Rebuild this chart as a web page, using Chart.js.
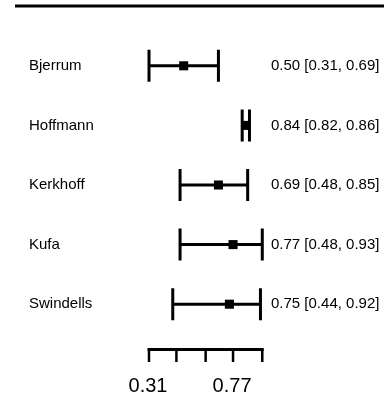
<!DOCTYPE html>
<html>
<head>
<meta charset="utf-8">
<script src="https://cdn.jsdelivr.net/npm/chart.js@4"></script>
<style>
  body { margin: 0; background: #fff; }
  #wrap { width: 384px; height: 399px; }
</style>
</head>
<body>
<div id="wrap"><canvas id="forest" width="384" height="399"></canvas></div>
<script>
const studies = ['Bjerrum', 'Hoffmann', 'Kerkhoff', 'Kufa', 'Swindells'];
const estimates = [0.50, 0.84, 0.69, 0.77, 0.75];
const lower = [0.31, 0.82, 0.48, 0.48, 0.44];
const upper = [0.69, 0.86, 0.85, 0.93, 0.92];
const axisTicks = [0.31, 0.46, 0.62, 0.77, 0.93];
const axisLabels = ['0.31', '', '', '0.77', ''];

const points = estimates.map((v, i) => ({ x: v, y: i }));

const forestPlugin = {
  id: 'forest',
  beforeDatasetsDraw(chart) {
    const ctx = chart.ctx;
    const xs = chart.scales.x, ys = chart.scales.y;
    ctx.save();
    ctx.strokeStyle = '#000';
    ctx.lineCap = 'butt';
    // top rule
    ctx.lineWidth = 3;
    ctx.beginPath();
    ctx.moveTo(15, 6);
    ctx.lineTo(384, 6);
    ctx.stroke();
    // confidence intervals
    studies.forEach((s, i) => {
      const y = ys.getPixelForValue(i);
      const x0 = xs.getPixelForValue(lower[i]);
      const x1 = xs.getPixelForValue(upper[i]);
      ctx.lineWidth = 3;
      ctx.beginPath();
      ctx.moveTo(x0, y);
      ctx.lineTo(x1, y);
      ctx.stroke();
      ctx.beginPath();
      ctx.moveTo(x0, y - 16);
      ctx.lineTo(x0, y + 16);
      ctx.moveTo(x1, y - 16);
      ctx.lineTo(x1, y + 16);
      ctx.stroke();
    });
    // bottom axis
    const ay = 349.5;
    ctx.lineWidth = 3;
    ctx.beginPath();
    ctx.moveTo(xs.getPixelForValue(axisTicks[0]) - 1.5, ay);
    ctx.lineTo(xs.getPixelForValue(axisTicks[axisTicks.length - 1]) + 1.5, ay);
    ctx.stroke();
    ctx.lineWidth = 2.5;
    axisTicks.forEach(t => {
      const x = xs.getPixelForValue(t);
      ctx.beginPath();
      ctx.moveTo(x, ay);
      ctx.lineTo(x, 362);
      ctx.stroke();
    });
    ctx.restore();
  },
  afterDraw(chart) {
    const ctx = chart.ctx;
    const xs = chart.scales.x, ys = chart.scales.y;
    ctx.save();
    ctx.fillStyle = '#000';
    ctx.textBaseline = 'middle';
    ctx.font = '15px "Liberation Sans", Arial, sans-serif';
    ctx.textAlign = 'left';
    studies.forEach((s, i) => {
      const y = ys.getPixelForValue(i);
      ctx.fillText(s, 29, y);
      ctx.fillText(estimates[i].toFixed(2) + ' [' + lower[i].toFixed(2) + ', ' + upper[i].toFixed(2) + ']', 271, y);
    });
    ctx.font = '20px "Liberation Sans", Arial, sans-serif';
    ctx.textAlign = 'center';
    axisTicks.forEach((t, i) => {
      if (axisLabels[i]) ctx.fillText(axisLabels[i], xs.getPixelForValue(t) - 1, 386);
    });
    ctx.restore();
  }
};

const config = {
  type: 'scatter',
  data: {
    datasets: [{
      data: points,
      pointStyle: 'rect',
      pointRadius: 6.4,
      pointHoverRadius: 6.4,
      backgroundColor: '#000',
      borderColor: '#000',
      borderWidth: 0
    }]
  },
  options: {
    responsive: false,
    animation: false,
    events: [],
    layout: { padding: { left: 149, right: 123, top: 36, bottom: 65 } },
    plugins: { legend: { display: false }, tooltip: { enabled: false } },
    scales: {
      x: { type: 'linear', display: false, min: 0.31, max: 0.923 },
      y: { type: 'linear', display: false, min: -0.5, max: 4.5, reverse: true }
    }
  },
  plugins: [forestPlugin]
};

const ctx = document.getElementById('forest').getContext('2d');
const chart = new Chart(ctx, config);
</script>
</body>
</html>
